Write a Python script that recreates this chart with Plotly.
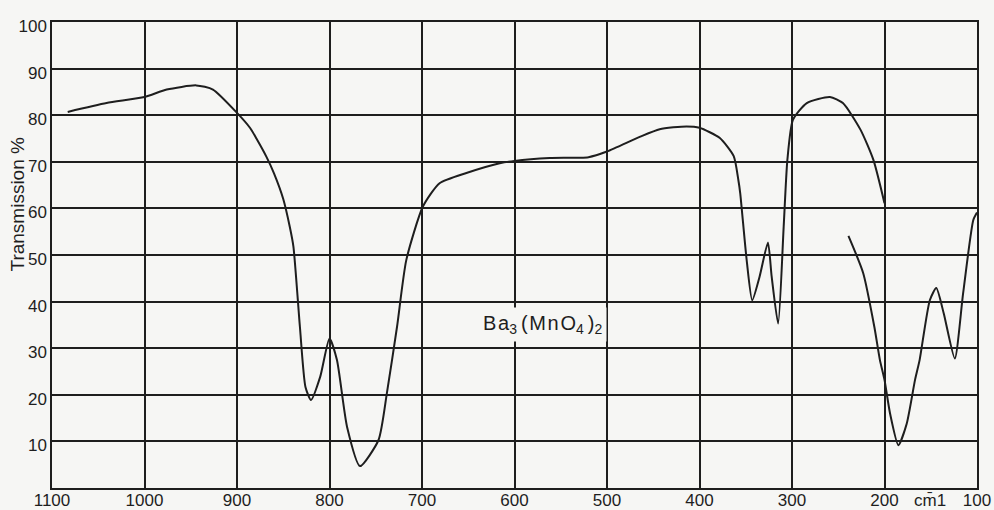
import plotly.graph_objects as go

# Spectrum segment 1 (wavenumber cm-1, transmission %)
seg1_x = [1083, 1041, 1000, 976, 944, 926, 900, 886, 879, 868, 860, 850, 843, 839, 832, 826, 820, 810,
          800, 792, 781, 767, 747, 738, 727, 717, 699, 681, 652, 616, 600, 562, 520, 500,
          464, 443, 414, 400, 378, 363, 358, 356, 349, 343, 335, 326, 322, 315, 309, 305,
          299, 284, 259, 245, 226, 212, 200]
seg1_y = [80.7, 82.6, 83.9, 85.5, 86.4, 85.5, 80.5, 77.3, 75.0, 71.0, 67.5, 62.0, 56.1, 51.8, 34.6, 21.7, 18.9, 23.9,
          32.1, 27.5, 13.1, 4.7, 10.3, 20.3, 34.6, 48.9, 60.4, 65.4, 67.6, 69.7, 70.2, 70.8, 71.0, 72.2,
          75.4, 77.0, 77.6, 77.3, 75.1, 71.2, 66.1, 63.3, 48.9, 40.3, 45.4, 52.7, 45.4, 35.3, 56.1, 70.4,
          79.0, 82.6, 83.9, 82.6, 76.9, 70.4, 61.1]

# Spectrum segment 2
seg2_x = [239, 223, 211, 205, 200, 194, 185, 176, 167, 162, 151, 144, 136, 124, 115, 104, 100]
seg2_y = [54.1, 46.1, 34.6, 27.5, 23.2, 16.0, 9.2, 13.8, 23.2, 27.5, 40.3, 42.9, 37.5, 27.8, 41.8, 57.5, 59.1]

x_ticks = [1100, 1000, 900, 800, 700, 600, 500, 400, 300, 200, 100]
y_ticks = [10, 20, 30, 40, 50, 60, 70, 80, 90, 100]

FONT = "Liberation Sans, Arial, sans-serif"
INK = "#1e1e1e"
BG = "#f6f6f4"

fig = go.Figure()
for xs, ys in [(seg1_x, seg1_y), (seg2_x, seg2_y)]:
    fig.add_trace(go.Scatter(x=xs, y=ys, mode="lines",
                             line=dict(color=INK, width=2, shape="spline", smoothing=0.6),
                             showlegend=False, hoverinfo="skip"))

fig.add_annotation(x=570, y=35, xref="x", yref="y",
                   text="B\u200aa<sub>3</sub>\u2009(\u200aM\u200an\u200aO<sub>4</sub>\u2009)<sub>2</sub>",
                   showarrow=False, bgcolor=BG, borderpad=4,
                   font=dict(family=FONT, size=20, color=INK))
fig.add_annotation(x=151, y=-0.027, xref="x", yref="paper",
                   text="cm\u03041", showarrow=False, yanchor="middle", xanchor="center",
                   font=dict(family=FONT, size=17, color=INK))
fig.add_annotation(x=-0.037, y=61, xref="paper", yref="y",
                   text="Transmission %", textangle=-90, showarrow=False,
                   xanchor="center", yanchor="middle",
                   font=dict(family=FONT, size=19, color=INK))

fig.update_xaxes(range=[1100, 100], tickvals=x_ticks, ticktext=[str(v) for v in x_ticks],
                 showgrid=True, gridcolor=INK, gridwidth=1.5, zeroline=False,
                 showline=True, mirror=True, linecolor=INK, linewidth=1.5,
                 ticks="", automargin=False, ticklabelstandoff=-4,
                 tickfont=dict(family=FONT, size=17, color=INK))
fig.update_yaxes(range=[0, 100], tickvals=y_ticks,
                 showgrid=True, gridcolor=INK, gridwidth=1.5, zeroline=False,
                 showline=True, mirror=True, linecolor=INK, linewidth=1.5,
                 ticks="", ticklabelshift=4, ticklabelstandoff=0, automargin=False,
                 tickfont=dict(family=FONT, size=17, color=INK))

fig.update_layout(width=994, height=510,
                  margin=dict(l=52, r=17, t=22, b=22),
                  paper_bgcolor=BG, plot_bgcolor=BG)

fig.write_html("out.html")
